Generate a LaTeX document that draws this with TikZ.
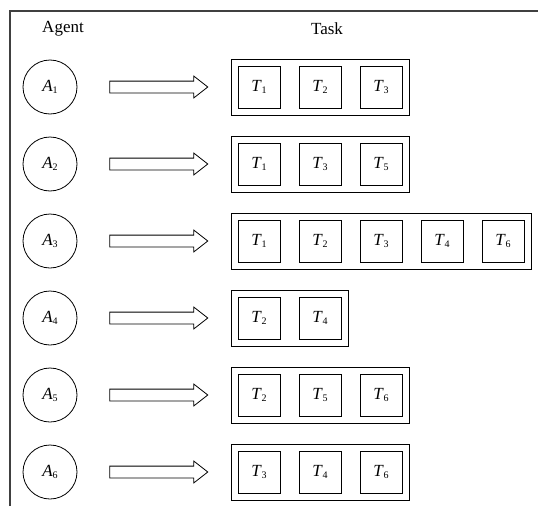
\documentclass[tikz,border=0pt]{standalone}
\usepackage{fontspec}
\setmainfont{Liberation Serif}
\usetikzlibrary{shapes.arrows,fit}
\newcommand{\lbl}[2]{\textit{#1}\kern-.3pt\raisebox{-.35ex}{\fontsize{10}{10}\selectfont #2}}

\begin{document}
\begin{tikzpicture}[x=1pt,y=-1pt,
  every node/.style={font=\fontsize{17}{20}\selectfont},
  agent/.style={draw,circle,minimum size=54pt,inner sep=0,line width=.8pt},
  task/.style={draw,minimum size=42pt,inner sep=0,line width=.9pt},
  group/.style={draw,inner sep=6.5pt,line width=.9pt},
  assign/.style={draw,single arrow,single arrow head extend=5pt,single arrow tip angle=76,
    minimum height=98pt,minimum width=21pt,inner xsep=0,inner ysep=5.5pt,line width=.8pt}]
  \useasboundingbox (0,0) rectangle (538,506);
  \draw [black!75,line width=1.2pt] (10,506) -- (10,11) -- (538,11);
  \node (agent) at (63,29) {Agent};
  \node (task) at (327,29) {Task};
  % row 1
  \node [agent] (a1) at (50,87) {\lbl{A}{1}};
  \node [assign] (r1) at (155,87) {};
  \node [task] (t11) at (259,87) {\lbl{T}{1}};
  \node [task] (t12) at (320,87) {\lbl{T}{2}};
  \node [task] (t13) at (381,87) {\lbl{T}{3}};
  \node [group,fit=(t11)(t13)] (g1) {};
  % row 2
  \node [agent] (a2) at (50,164) {\lbl{A}{2}};
  \node [assign] (r2) at (155,164) {};
  \node [task] (t21) at (259,164) {\lbl{T}{1}};
  \node [task] (t22) at (320,164) {\lbl{T}{3}};
  \node [task] (t23) at (381,164) {\lbl{T}{5}};
  \node [group,fit=(t21)(t23)] (g2) {};
  % row 3
  \node [agent] (a3) at (50,241) {\lbl{A}{3}};
  \node [assign] (r3) at (155,241) {};
  \node [task] (t31) at (259,241) {\lbl{T}{1}};
  \node [task] (t32) at (320,241) {\lbl{T}{2}};
  \node [task] (t33) at (381,241) {\lbl{T}{3}};
  \node [task] (t34) at (442,241) {\lbl{T}{4}};
  \node [task] (t35) at (503,241) {\lbl{T}{6}};
  \node [group,fit=(t31)(t35)] (g3) {};
  % row 4
  \node [agent] (a4) at (50,318) {\lbl{A}{4}};
  \node [assign] (r4) at (155,318) {};
  \node [task] (t41) at (259,318) {\lbl{T}{2}};
  \node [task] (t42) at (320,318) {\lbl{T}{4}};
  \node [group,fit=(t41)(t42)] (g4) {};
  % row 5
  \node [agent] (a5) at (50,395) {\lbl{A}{5}};
  \node [assign] (r5) at (155,395) {};
  \node [task] (t51) at (259,395) {\lbl{T}{2}};
  \node [task] (t52) at (320,395) {\lbl{T}{5}};
  \node [task] (t53) at (381,395) {\lbl{T}{6}};
  \node [group,fit=(t51)(t53)] (g5) {};
  % row 6
  \node [agent] (a6) at (50,472) {\lbl{A}{6}};
  \node [assign] (r6) at (155,472) {};
  \node [task] (t61) at (259,472) {\lbl{T}{3}};
  \node [task] (t62) at (320,472) {\lbl{T}{4}};
  \node [task] (t63) at (381,472) {\lbl{T}{6}};
  \node [group,fit=(t61)(t63)] (g6) {};
\end{tikzpicture}
\end{document}
